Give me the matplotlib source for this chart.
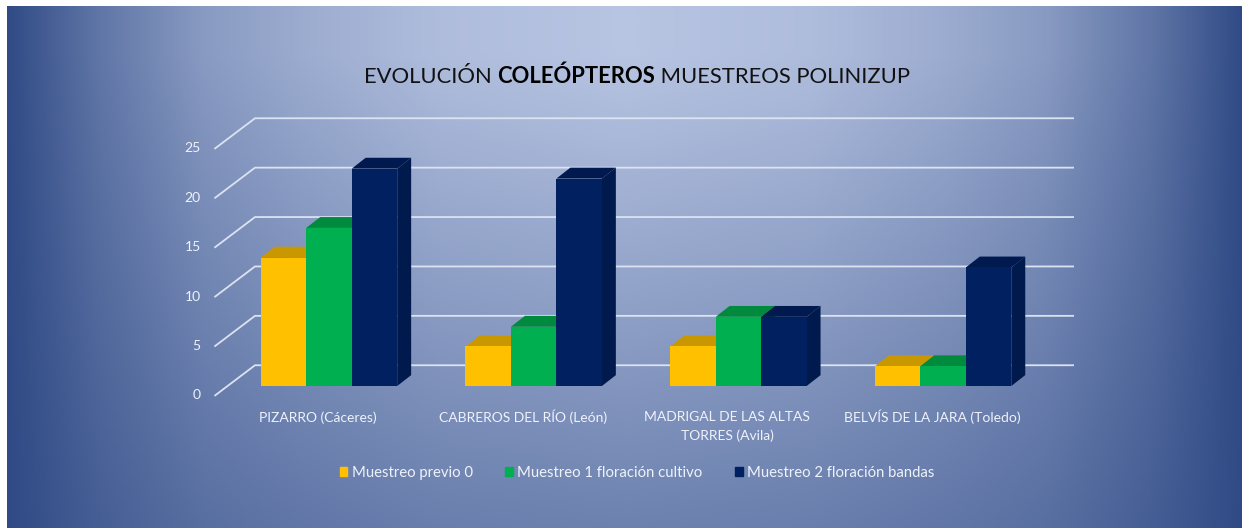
import numpy as np
import matplotlib.pyplot as plt
from matplotlib.patches import Polygon, Patch
from matplotlib.colors import LinearSegmentedColormap

categories = ['PIZARRO (Cáceres)', 'CABREROS DEL RÍO (León)',
              'MADRIGAL DE LAS ALTAS\nTORRES (Avila)', 'BELVÍS DE LA JARA (Toledo)']
series_names = ['Muestreo previo 0', 'Muestreo 1 floración cultivo', 'Muestreo 2 floración bandas']
previo = [13, 4, 4, 2]
cultivo = [16, 6, 7, 2]
bandas = [22, 21, 7, 12]
yticks = [0, 5, 10, 15, 20, 25]

front_cols = ['#ffc000', '#00b050', '#002060']
top_cols = ['#c99700', '#008a3e', '#001a50']
side_cols = ['#b88a00', '#007a36', '#001a4d']
text_col = '#eef2fa'
grid_col = '#dbe3f2'

plt.rcParams['font.family'] = ['Lato', 'DejaVu Sans']

W, H = 1242, 528
fig = plt.figure(figsize=[W / 100, H / 100], dpi=100, facecolor='white')
ax = fig.add_axes([0, 0, 1, 1])
ax.axis('off')

# background gradient, starts after the white margin
gx, gy = np.meshgrid(np.linspace(7, W, 500), np.linspace(6, H, 220))
dx = np.abs(gx - 625) / 620
shade = np.interp(dx, [0, 0.3, 0.52, 0.68, 0.85, 1], [1, 0.94, 0.8, 0.66, 0.36, 0])
shade = shade * np.clip(1.06 - gy * 0.00114, 0, 1)
cmap = LinearSegmentedColormap.from_list('bg', ['#2f4a85', '#b7c4e2'])
ax.imshow(shade, cmap=cmap, vmin=0, vmax=1, aspect='auto', zorder=0,
          extent=[7 / W, 1, 0, 1 - 6 / H], transform=ax.transAxes)

# one category = 204.7 px, one y unit = 9.88 px
ax.set_xlim((0 - 329) / 204.7, (W - 329) / 204.7)
ax.set_ylim((386 - H) / 9.88, 386 / 9.88)

# gridlines: floor edge in front, then along the back wall
front_x, back_x, right_x = -0.5562, -0.3615, 3.635
front_dy, back_dy = -0.95, 2.1
for t in yticks:
    ax.plot([front_x, back_x, right_x], [t + front_dy, t + back_dy, t + back_dy],
            color=grid_col, lw=1.3, zorder=1, solid_joinstyle='miter')
    ax.text(front_x - 0.07, t + front_dy, str(t), color=text_col, fontsize=10,
            ha='right', va='center', zorder=5)

# bars with fake 3d depth
bw = 0.2222
depth_x = 0.068
depth_y = 1.1
x = np.arange(len(categories))
for s, vals in enumerate([previo, cultivo, bandas]):
    pos = x + (s - 1) * bw
    ax.bar(pos, vals, width=bw, color=front_cols[s], zorder=3 + s * 0.1 + 0.05)
    for p, v in zip(pos, vals):
        l, r = p - bw / 2, p + bw / 2
        ax.add_patch(Polygon([(l, v), (r, v), (r + depth_x, v + depth_y), (l + depth_x, v + depth_y)],
                             closed=True, color=top_cols[s], lw=0, zorder=3 + s * 0.1))
        ax.add_patch(Polygon([(r, 0), (r + depth_x, depth_y), (r + depth_x, v + depth_y), (r, v)],
                             closed=True, color=side_cols[s], lw=0, zorder=3 + s * 0.1))

# category labels, baseline is the last line so push two line labels down
for i, c in enumerate(categories):
    ax.text(-0.054 + i, -3.6 - c.count('\n') * 1.9, c, color=text_col, fontsize=10, ha='center',
            va='baseline', linespacing=1.65, zorder=5)

# title in three pieces because of the bold word
t1 = ax.text(0.171, 30.67, 'EVOLUCIÓN ', color='#111111', fontsize=15.8, ha='left', va='baseline', zorder=5)
t2 = ax.annotate('COLEÓPTEROS', xy=(1, 0), xycoords=t1, color='black', fontsize=15.8,
                 fontweight='bold', va='bottom', zorder=5)
t3 = ax.annotate(' MUESTREOS POLINIZUP', xy=(1, 0), xycoords=t2, color='#111111', fontsize=15.8,
                 va='bottom', zorder=5)

handles = [Patch(color=c, label=n) for c, n in zip(front_cols, series_names)]
fig.legend(handles=handles, loc='center', bbox_to_anchor=(637 / W, 1 - 473 / H), ncol=3, frameon=False,
           fontsize=10.7, labelcolor=text_col, handlelength=0.5, handleheight=0.5,
           handletextpad=0.3, columnspacing=2.2)

fig.savefig('out.png', dpi=100)
